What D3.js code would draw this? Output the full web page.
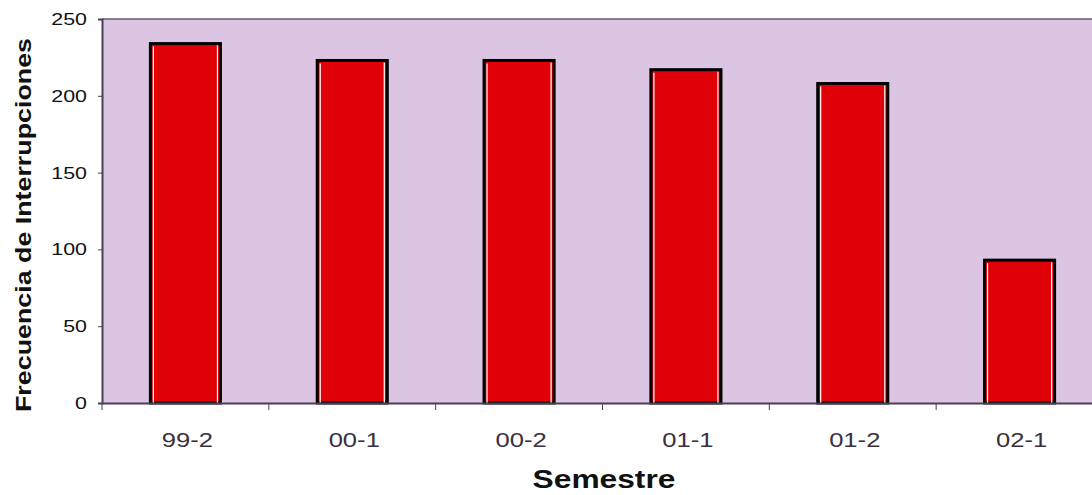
<!DOCTYPE html>
<html>
<head>
<meta charset="utf-8">
<script src="https://cdn.jsdelivr.net/npm/d3@7"></script>
<style>
  body { margin: 0; background: #fff; }
  svg { display: block; }
</style>
</head>
<body>
<div id="chart"></div>
<script>
const semestres = ['99-2', '00-1', '00-2', '01-1', '01-2', '02-1'];
const frecuencias = [234, 223, 223, 217, 208, 93];
const yTicks = [0, 50, 100, 150, 200, 250];

const width = 1092;
const height = 495;
const margin = { top: 19, right: -11, bottom: 92, left: 102 };
const font = 'Liberation Sans, Arial, sans-serif';
const stretch = 1.22; // the original type is wider than Arial

const svg = d3.select('#chart')
  .append('svg')
  .attr('width', width)
  .attr('height', height);

const x = d3.scaleBand()
  .domain(semestres)
  .range([margin.left, width - margin.right])
  .paddingInner(0.58)
  .paddingOuter(0.29);

const y = d3.scaleLinear()
  .domain([0, 250])
  .range([height - margin.bottom, margin.top]);

// plot background
svg.append('rect')
  .attr('x', margin.left)
  .attr('y', margin.top)
  .attr('width', width - margin.right - margin.left)
  .attr('height', y(0) - margin.top)
  .attr('fill', '#dbc5e2');

svg.append('line')
  .attr('x1', margin.left)
  .attr('x2', width)
  .attr('y1', margin.top)
  .attr('y2', margin.top)
  .attr('stroke', '#6a5a70')
  .attr('stroke-width', 1.5);

// bars
const bars = svg.append('g')
  .selectAll('g')
  .data(semestres.map((s, i) => ({ s, v: frecuencias[i] })))
  .join('g');

bars.append('rect')
  .attr('x', d => x(d.s))
  .attr('y', d => y(d.v))
  .attr('width', x.bandwidth())
  .attr('height', d => y(0) - y(d.v))
  .attr('fill', '#e00008')
  .attr('stroke', '#000')
  .attr('stroke-width', 3);

// white highlight lines
bars.append('line')
  .attr('x1', d => x(d.s) + 3)
  .attr('x2', d => x(d.s) + 3)
  .attr('y1', d => y(d.v) + 3)
  .attr('y2', y(0))
  .attr('stroke', '#fff')
  .attr('stroke-width', 1.2);

bars.append('line')
  .attr('x1', d => x(d.s) + x.bandwidth() - 3)
  .attr('x2', d => x(d.s) + x.bandwidth() - 3)
  .attr('y1', d => y(d.v) + 2)
  .attr('y2', y(0))
  .attr('stroke', '#fff')
  .attr('stroke-width', 1.2);

// y axis (labels drawn separately so they can be widened)
const yAxis = svg.append('g')
  .attr('transform', `translate(${margin.left},0)`)
  .call(d3.axisLeft(y).tickValues(yTicks).tickSize(4).tickFormat(''));
yAxis.select('.domain').attr('stroke', '#4a3f55').attr('stroke-width', 2);
yAxis.selectAll('.tick line').attr('stroke', '#4a3f55');

svg.append('g')
  .selectAll('text')
  .data(yTicks)
  .join('text')
  .attr('transform', d => `translate(${margin.left - 15},${y(d) + 6}) scale(1.26,1)`)
  .attr('text-anchor', 'end')
  .attr('font-family', font)
  .attr('font-size', 17)
  .attr('fill', '#111')
  .text(d => d);

// x axis
const xAxis = svg.append('g')
  .attr('transform', `translate(0,${y(0)})`)
  .call(d3.axisBottom(x).tickSize(0).tickFormat(''));
xAxis.select('.domain').attr('stroke', '#4a3f55').attr('stroke-width', 2);

svg.append('g')
  .selectAll('text')
  .data(semestres)
  .join('text')
  .attr('transform', d => `translate(${x(d) + x.bandwidth() / 2 + 2},${y(0) + 44}) scale(${stretch},1)`)
  .attr('text-anchor', 'middle')
  .attr('font-family', font)
  .attr('font-size', 21)
  .attr('fill', '#3a3040')
  .text(d => d);

// category separator ticks
const step = x.step();
const sep = d3.range(semestres.length + 1).map(i => x(semestres[0]) - x.paddingOuter() * step + i * step);
svg.append('g')
  .selectAll('line')
  .data(sep)
  .join('line')
  .attr('x1', d => d)
  .attr('x2', d => d)
  .attr('y1', y(0))
  .attr('y2', y(0) + 7)
  .attr('stroke', '#4a3f55')
  .attr('stroke-width', 1);

// axis titles
svg.append('text')
  .attr('transform', `translate(31,${(margin.top + y(0)) / 2 + 14}) rotate(-90) scale(${stretch},1)`)
  .attr('text-anchor', 'middle')
  .attr('font-family', font)
  .attr('font-weight', 'bold')
  .attr('font-size', 22)
  .attr('fill', '#111')
  .text('Frecuencia de Interrupciones');

svg.append('text')
  .attr('transform', `translate(604,488) scale(${stretch},1)`)
  .attr('text-anchor', 'middle')
  .attr('font-family', font)
  .attr('font-weight', 'bold')
  .attr('font-size', 26)
  .attr('fill', '#111')
  .text('Semestre');
</script>
</body>
</html>
